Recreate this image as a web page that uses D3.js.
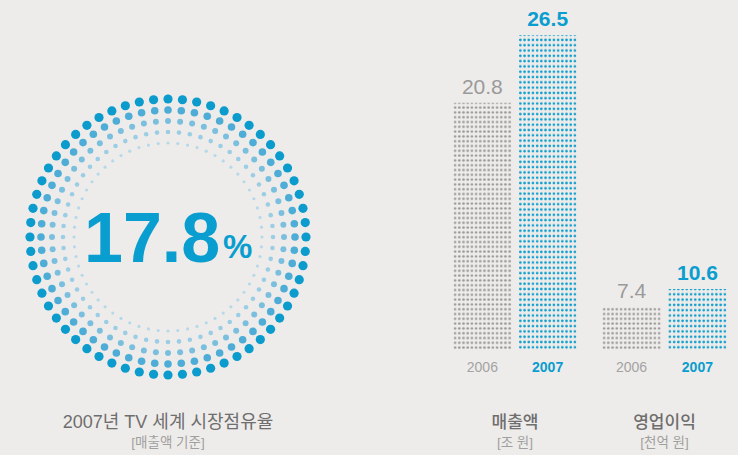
<!DOCTYPE html>
<html>
<head>
<meta charset="utf-8">
<script src="https://cdn.jsdelivr.net/npm/d3@7"></script>
<style>
  body { margin: 0; background: #eeecea; }
  svg { display: block; }
</style>
</head>
<body>
<svg id="drawing_region"></svg>
<script>
// data
const shareValue = 17.8;
const shareTitle = "2007년 TV 세계 시장점유율";
const shareSub = "[매출액 기준]";

const years = ["2006", "2007"];
const salesValues = [20.8, 26.5];
const profitValues = [7.4, 10.6];
const groupTitles = ["매출액", "영업이익"];
const groupUnits = ["[조 원]", "[천억 원]"];

const KR = "'Liberation Sans', 'Noto Sans CJK KR', sans-serif";
const LAT = "'Liberation Sans', Arial, sans-serif";
const BLUE = "#0a9dcf";
const GRAY = "#9a9a9a";

const svg = d3.select("#drawing_region")
    .attr("width", 738)
    .attr("height", 455);

const defs = svg.append("defs");

// ---- ring of dots ----
const cx = 168, cy = 237;
const rings = [
    {r: 138, size: 4.6, color: "#0b9bcc"},
    {r: 127, size: 3.8, color: "#4dadd6"},
    {r: 116, size: 3.0, color: "#7bbfdf"},
    {r: 105, size: 2.3, color: "#9bcde5"},
    {r: 94,  size: 1.6, color: "#b6d9ea"}
];
const nDots = 60;
const angle = d3.scaleLinear().domain([0, nDots]).range([0, 2 * Math.PI]);

const ringG = svg.append("g").attr("transform", `translate(${cx}, ${cy})`);
rings.forEach(ring => {
    ringG.append("g").selectAll("circle")
        .data(d3.range(nDots))
        .enter()
        .append("circle")
        .attr("cx", i => ring.r * Math.sin(angle(i)))
        .attr("cy", i => -ring.r * Math.cos(angle(i)))
        .attr("r", ring.size)
        .attr("fill", ring.color);
});

svg.append("text")
    .attr("x", 84)
    .attr("y", 262)
    .attr("fill", BLUE)
    .attr("font-family", LAT)
    .attr("font-weight", "bold")
    .attr("font-size", "70px")
    .text(shareValue.toFixed(1));

svg.append("text")
    .attr("x", 223)
    .attr("y", 258)
    .attr("fill", BLUE)
    .attr("font-family", LAT)
    .attr("font-weight", "bold")
    .attr("font-size", "33px")
    .text("%");

svg.append("text")
    .attr("x", cx).attr("y", 428)
    .attr("text-anchor", "middle")
    .attr("fill", "#6e6e6e")
    .attr("font-family", KR)
    .attr("font-size", "18px")
    .text(shareTitle);

svg.append("text")
    .attr("x", cx).attr("y", 447)
    .attr("text-anchor", "middle")
    .attr("fill", "#a0a0a0")
    .attr("font-family", KR)
    .attr("font-size", "13.5px")
    .text(shareSub);

// ---- dotted bars ----
const baseY = 350;
const groups = [
    {values: salesValues, range: [453, 577], yscale: d3.scaleLinear().domain([0, 26.5]).range([baseY, 35])},
    {values: profitValues, range: [602, 727], yscale: d3.scaleLinear().domain([0, 10.6]).range([baseY, 289])}
];

groups.forEach((g, gi) => {
    const xscale = d3.scaleBand()
        .domain(years)
        .range(g.range)
        .paddingInner(0.1);

    const data = years.map((y, i) => ({year: y, value: g.values[i], idx: i}));
    const grp = svg.append("g");

    data.forEach(d => {
        const id = `dots-${gi}-${d.idx}`;
        const color = d.idx === 1 ? BLUE : GRAY;
        const stepY = d.idx === 1 ? 5.3 : 4.8;
        const p = defs.append("pattern")
            .attr("id", id)
            .attr("patternUnits", "userSpaceOnUse")
            .attr("x", xscale(d.year))
            .attr("y", baseY)
            .attr("width", xscale.bandwidth() / 14)
            .attr("height", stepY);
        p.append("circle")
            .attr("cx", xscale.bandwidth() / 28)
            .attr("cy", stepY / 2)
            .attr("r", 1.3)
            .attr("fill", color);
    });

    grp.selectAll("rect")
        .data(data)
        .enter()
        .append("rect")
        .attr("x", d => xscale(d.year))
        .attr("y", d => g.yscale(d.value))
        .attr("width", xscale.bandwidth())
        .attr("height", d => baseY - g.yscale(d.value))
        .attr("fill", d => `url(#dots-${gi}-${d.idx})`);

    grp.selectAll(".val")
        .data(data)
        .enter()
        .append("text")
        .attr("class", "val")
        .attr("x", d => xscale(d.year) + xscale.bandwidth() / 2)
        .attr("y", d => g.yscale(d.value) - 9)
        .attr("text-anchor", "middle")
        .attr("fill", d => d.idx === 1 ? BLUE : GRAY)
        .attr("font-family", LAT)
        .attr("font-weight", d => d.idx === 1 ? "bold" : "normal")
        .attr("font-size", "21px")
        .text(d => d.value.toFixed(1));

    grp.selectAll(".yr")
        .data(data)
        .enter()
        .append("text")
        .attr("class", "yr")
        .attr("x", d => xscale(d.year) + xscale.bandwidth() / 2)
        .attr("y", 372)
        .attr("text-anchor", "middle")
        .attr("fill", d => d.idx === 1 ? BLUE : "#a3a3a3")
        .attr("font-family", LAT)
        .attr("font-weight", d => d.idx === 1 ? "bold" : "normal")
        .attr("font-size", "14px")
        .text(d => d.year);

    const mid = (g.range[0] + g.range[1]) / 2;
    grp.append("text")
        .attr("x", mid).attr("y", 428)
        .attr("text-anchor", "middle")
        .attr("fill", "#6e6e6e")
        .attr("font-family", KR)
        .attr("font-weight", "500")
        .attr("font-size", "17px")
        .text(groupTitles[gi]);
    grp.append("text")
        .attr("x", mid).attr("y", 447)
        .attr("text-anchor", "middle")
        .attr("fill", "#a0a0a0")
        .attr("font-family", KR)
        .attr("font-size", "13.5px")
        .text(groupUnits[gi]);
});
</script>
</body>
</html>
